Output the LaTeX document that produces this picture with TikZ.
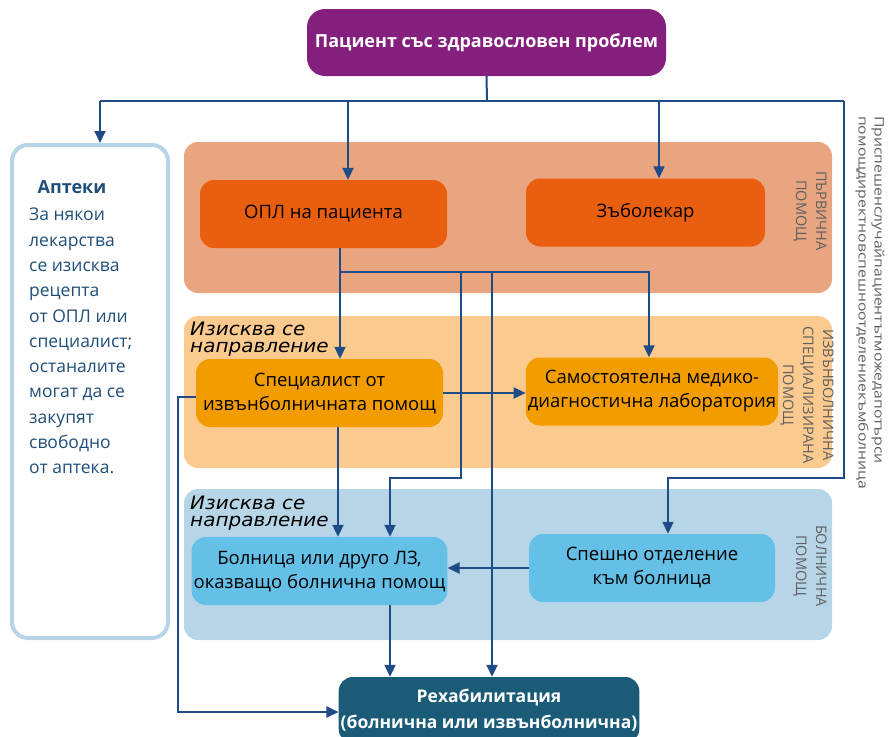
\documentclass[tikz,border=0pt]{standalone}
\usepackage{fontspec}
\setmainfont{Open Sans}
\newfontfamily\notefont{DejaVu Sans}
\usetikzlibrary{arrows.meta}
\usetikzlibrary{shapes}
\definecolor{purp}{HTML}{841F7E}
\definecolor{bandA}{HTML}{E9A57F}
\definecolor{bandB}{HTML}{FBCA8E}
\definecolor{bandC}{HTML}{B6D6E8}
\definecolor{boxA}{HTML}{E95E0F}
\definecolor{boxB}{HTML}{F29C00}
\definecolor{boxC}{HTML}{65C0E8}
\definecolor{rehcol}{HTML}{1A5B78}
\definecolor{linkblue}{HTML}{1F4B87}
\definecolor{aptblue}{HTML}{1F4E79}
\definecolor{sidegray}{HTML}{5F5F5F}

\begin{document}
\begin{tikzpicture}[x = 1pt, y = -1pt]
	\tikzstyle{boxStyle}=[shape = rectangle, rounded corners = 14pt, minimum width = 247pt, minimum height = 68pt, inner sep = 2pt, align = center, font = \fontsize{18.5}{24}\selectfont]
	\tikzstyle{titleStyle}=[boxStyle, text = white, font = \bfseries\fontsize{17.5}{26}\selectfont]
	\tikzstyle{bandStyle}=[rounded corners = 14pt]
	\tikzstyle{sideStyle}=[rotate = -90, align = center, inner sep = 0pt, text = sidegray, font = \fontsize{14.5}{20}\selectfont]
	\tikzstyle{noteStyle}=[anchor = north west, align = left, inner sep = 0pt, font = \notefont\itshape\fontsize{18.5}{17}\selectfont]
	\tikzstyle{linkStyle}=[draw = linkblue, line width = 2pt, -{Triangle[length = 12pt, width = 11pt]}]
	\useasboundingbox (0,0) rectangle (891,736);
	\fill[bandA, bandStyle] (184,142) rectangle (832,293);
	\fill[bandB, bandStyle] (184,316) rectangle (832,468);
	\fill[bandC, bandStyle] (184,489) rectangle (832,640);
	\node[sideStyle] (s1) at (810,211) {ПЪРВИЧНА\\ПОМОЩ};
	\node[sideStyle] (s2) at (807,395) {ИЗВЪНБОЛНИЧНА\\СПЕЦИАЛИЗИРАНА\\ПОМОЩ};
	\node[sideStyle] (s3) at (810,566) {БОЛНИЧНА\\ПОМОЩ};
	\node[sideStyle, anchor = west, align = left, font = \fontsize{13}{16}\selectfont] (s4) at (870,116) {\scalebox{1.21}[1]{Приспешенслучайпациентътможедапотърси}\\\scalebox{1.21}[1]{помощдиректновспешноотделениекъмболница}};
	\node[noteStyle] (n1) at (190,322) {\scalebox{1.08}[1]{Изисква се}\\\scalebox{1.08}[1]{направление}};
	\node[noteStyle] (n2) at (190,496) {\scalebox{1.08}[1]{Изисква се}\\\scalebox{1.08}[1]{направление}};
	\node[titleStyle, fill = purp, minimum width = 359pt, minimum height = 67pt, rounded corners = 18pt, font = \bfseries\fontsize{18}{26}\selectfont] (v0) at (486.5,42.5) {Пациент със здравословен проблем};
	\node[shape = rectangle, draw = bandC, line width = 4pt, rounded corners = 16pt, minimum width = 156pt, minimum height = 493pt] (v1) at (90,391.5) {};
	\node[text = aptblue, font = \bfseries\fontsize{18}{22}\selectfont] (t0) at (72,187) {Аптеки};
	\node[anchor = north west, align = left, inner sep = 0pt, text = aptblue, font = \fontsize{17.5}{25.3}\selectfont] (t1) at (29,208) {За някои\\лекарства\\се изисква\\рецепта\\от ОПЛ или\\специалист;\\останалите\\могат да се\\закупят\\свободно\\от аптека.};
	\node[boxStyle, fill = boxA] (v2) at (323.5,214) {ОПЛ на пациента};
	\node[boxStyle, fill = boxA, minimum width = 239pt] (v3) at (645.5,212.5) {Зъболекар};
	\node[boxStyle, fill = boxB] (v4) at (319.5,393) {Специалист от\\извънболничната помощ};
	\node[boxStyle, fill = boxB, minimum width = 246pt] (v5) at (652,391.5) {Самостоятелна медико-\\диагностична лаборатория};
	\node[boxStyle, fill = boxC] (v6) at (319.5,571) {Болница или друго ЛЗ,\\оказващо болнична помощ};
	\node[boxStyle, fill = boxC, minimum width = 246pt] (v7) at (652,568) {Спешно отделение\\към болница};
	\node[titleStyle, fill = rehcol, minimum width = 296pt, minimum height = 66pt] (v8) at (489,710) {Рехабилитация\\(болнична или извънболнична)};
	\coordinate (c0) at (487,101);
	\coordinate (c1) at (100,101);
	\coordinate (c2) at (844,101);
	\coordinate (c3) at (668,478);
	\coordinate (a1) at (348,101);
	\coordinate (a2) at (659,101);
	\coordinate (d0) at (340,272);
	\coordinate (d1) at (649,272);
	\coordinate (d2) at (461,272);
	\coordinate (d3) at (390,478);
	\coordinate (d4) at (492,272);
	\coordinate (f0) at (178,712);
	\draw[draw = linkblue, line width = 2pt] (v0.south) -- (c0);
	\draw[draw = linkblue, line width = 2pt] (c1) -- (c2);
	\draw[linkStyle] (c1) -- (c1 |- v1.north);
	\draw[linkStyle] (a1) -- (a1 |- v2.north);
	\draw[linkStyle] (a2) -- (a2 |- v3.north);
	\draw[linkStyle] (c2) |- (c3) -- (c3 |- v7.north);
	\draw[linkStyle] (v2.south -| d0) -- (v4.north -| d0);
	\draw[linkStyle] (d0) -- (d1) -- (d1 |- v5.north);
	\draw[linkStyle] (d2) |- (d3) -- (d3 |- v6.north);
	\draw[linkStyle] (d4) -- (d4 |- v8.north);
	\draw[linkStyle] ([xshift = 18.5pt]v4.south) -- ([xshift = 18.5pt]v6.north);
	\draw[linkStyle] (v4.east) -- (v4.east -| v5.west);
	\draw[linkStyle] (v7.west) -- (v7.west -| v6.east);
	\draw[linkStyle] (v6.south -| d3) -- (v8.north -| d3);
	\draw[linkStyle] ([yshift = -4pt]v4.west) -| (f0) -- (f0 -| v8.west);
\end{tikzpicture}
\end{document}
